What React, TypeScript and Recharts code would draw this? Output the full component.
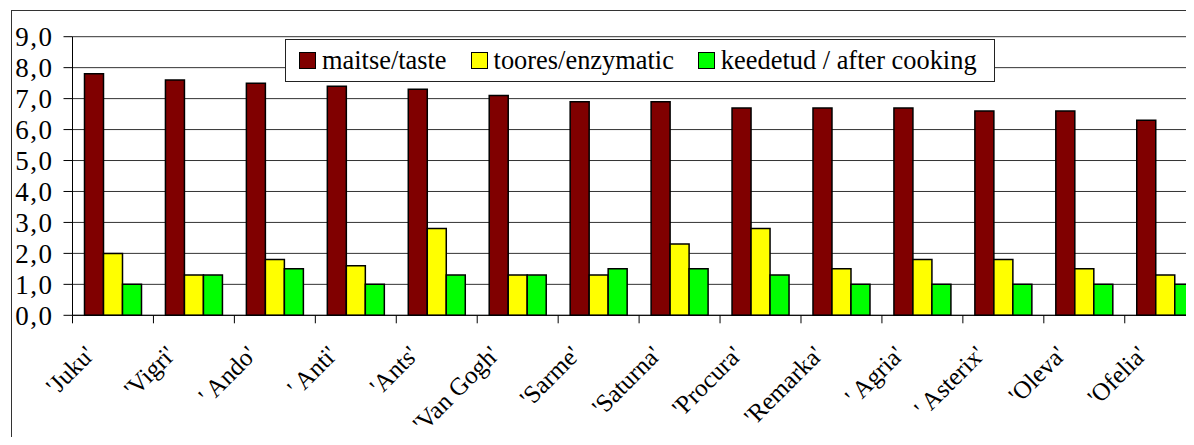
import { BarChart, Bar, XAxis, YAxis, CartesianGrid, Legend } from 'recharts';

const varieties = [
  "'Juku'", "'Vigri'", "' Ando'", "' Anti'", "'Ants'", "'Van Gogh'", "'Sarme'",
  "'Saturna'", "'Procura'", "'Remarka'", "' Agria'", "' Asterix'", "'Oleva'", "'Ofelia'"
];
const taste = [7.8, 7.6, 7.5, 7.4, 7.3, 7.1, 6.9, 6.9, 6.7, 6.7, 6.7, 6.6, 6.6, 6.3];
const enzymatic = [2.0, 1.3, 1.8, 1.6, 2.8, 1.3, 1.3, 2.3, 2.8, 1.5, 1.8, 1.8, 1.5, 1.3];
const afterCooking = [1.0, 1.3, 1.5, 1.0, 1.3, 1.3, 1.5, 1.5, 1.3, 1.0, 1.0, 1.0, 1.0, 1.0];
const yTicks = [0, 1, 2, 3, 4, 5, 6, 7, 8, 9];

const SERIES = [
  { key: 'taste', name: 'maitse/taste', color: '#800000' },
  { key: 'enzymatic', name: 'toores/enzymatic', color: '#ffff00' },
  { key: 'cooking', name: 'keedetud / after cooking', color: '#00ff00' },
];

const data = varieties.map((v, i) => ({
  name: v,
  taste: taste[i],
  enzymatic: enzymatic[i],
  cooking: afterCooking[i],
}));

const FONT = 'Liberation Serif';
const W = 1230;
const H = 445;
const MARGIN = { top: 36.7, right: 24.3, bottom: 29.7, left: 12.5 };
const Y_WIDTH = 60;
const BAND = (W - MARGIN.left - Y_WIDTH - MARGIN.right) / varieties.length;

// Excel-style category axis: tick marks sit between categories, labels at 45°
const CategoryTick = (props: any) => {
  const { x, y, payload } = props;
  return (
    <g>
      <line x1={x - BAND / 2} x2={x - BAND / 2} y1={y} y2={y + 8} stroke="#000" strokeWidth={1} />
      <text
        transform={`translate(${x - 17},${y + 41}) rotate(-45)`}
        textAnchor="end"
        fontSize={25}
        fontFamily={FONT}
        fill="#000"
      >
        {payload.value}
      </text>
    </g>
  );
};

const LegendBox = () => (
  <div
    style={{
      boxSizing: 'border-box',
      width: 710,
      height: 43,
      border: '1px solid #222',
      background: '#fff',
      display: 'flex',
      alignItems: 'center',
      paddingLeft: 13,
      fontFamily: FONT,
      fontSize: 26.4,
      color: '#000',
      whiteSpace: 'nowrap',
    }}
  >
    {SERIES.map((s) => (
      <div key={s.key} style={{ display: 'flex', alignItems: 'center', marginRight: 24 }}>
        <span
          style={{
            display: 'inline-block',
            boxSizing: 'border-box',
            width: 17,
            height: 17,
            background: s.color,
            border: '1.5px solid #000',
            marginRight: 6,
          }}
        />
        <span>{s.name}</span>
      </div>
    ))}
  </div>
);

export default function App() {
  return (
    <div style={{ margin: -8, width: 1194, height: 445, overflow: 'hidden', position: 'relative', background: '#fff' }}>
      <div
        style={{
          position: 'absolute',
          left: 11,
          top: 10,
          width: 2000,
          height: 1000,
          border: '1.5px solid #333',
          pointerEvents: 'none',
        }}
      />
      <div style={{ position: 'absolute', left: 0, top: 0 }}>
        <BarChart width={W} height={H} data={data} margin={MARGIN} barCategoryGap={12} barGap={0}>
          <CartesianGrid vertical={false} stroke="#333" strokeWidth={1} />
          <XAxis
            dataKey="name"
            interval={0}
            height={100}
            tick={<CategoryTick />}
            tickLine={false}
            tickSize={0}
            tickMargin={0}
            axisLine={{ stroke: '#000', strokeWidth: 1 }}
          />
          <YAxis
            width={Y_WIDTH}
            domain={[0, 9]}
            ticks={yTicks}
            interval={0}
            tickSize={9}
            tickMargin={10}
            tickLine={{ stroke: '#000' }}
            axisLine={{ stroke: '#000', strokeWidth: 1 }}
            tickFormatter={(v: number) => v.toFixed(1).replace('.', ',')}
            tick={{ fontSize: 27, fontFamily: FONT, fill: '#000', letterSpacing: 1.5 }}
          />
          <Legend
            layout="horizontal"
            verticalAlign="middle"
            align="center"
            content={<LegendBox />}
            wrapperStyle={{ left: 285, top: 39, width: 710, height: 43 }}
          />
          {SERIES.map((s) => (
            <Bar
              key={s.key}
              dataKey={s.key}
              name={s.name}
              fill={s.color}
              stroke="#000"
              strokeWidth={1.5}
              isAnimationActive={false}
            />
          ))}
        </BarChart>
      </div>
    </div>
  );
}
